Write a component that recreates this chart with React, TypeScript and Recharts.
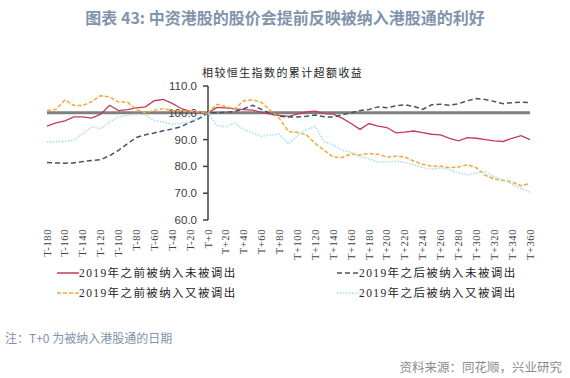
import React from 'react';
import { LineChart, Line, XAxis, YAxis, ReferenceLine } from 'recharts';

const periods = [
  'T-180', 'T-170', 'T-160', 'T-150', 'T-140', 'T-130', 'T-120', 'T-110', 'T-100', 'T-90',
  'T-80', 'T-70', 'T-60', 'T-50', 'T-40', 'T-30', 'T-20', 'T-10', 'T+0', 'T+10',
  'T+20', 'T+30', 'T+40', 'T+50', 'T+60', 'T+70', 'T+80', 'T+90', 'T+100', 'T+110',
  'T+120', 'T+130', 'T+140', 'T+150', 'T+160', 'T+170', 'T+180', 'T+190', 'T+200', 'T+210',
  'T+220', 'T+230', 'T+240', 'T+250', 'T+260', 'T+270', 'T+280', 'T+290', 'T+300', 'T+310',
  'T+320', 'T+330', 'T+340', 'T+350', 'T+360',
];

// 2019年之前被纳入未被调出
const beforeStayed = [
  95, 96.2, 97, 98.5, 98.5, 98, 99.5, 102.8, 100.8, 101.2,
  101.8, 102.2, 104.5, 105, 103.5, 101.6, 100.5, 100.2, 100, 102,
  101.8, 101.5, 101.2, 101, 100.2, 99.5, 99, 98.7, 99.5, 100.3,
  100.6, 99.7, 99.5, 98, 96, 93.8, 96, 95, 94.5, 92.5,
  92.8, 93.2, 92.6, 92, 91.8, 90.5, 89.5, 90.7, 90.5, 90,
  89.5, 89.3, 90.5, 91.5, 90,
];

// 2019年之后被纳入未被调出
const afterStayed = [
  81.5, 81.3, 81.2, 81.3, 81.8, 82.2, 82.5, 84, 86, 88.5,
  90.8, 91.8, 92.5, 93.3, 94, 94.8, 96.5, 97.8, 100, 100,
  100.2, 100.5, 101.5, 102.8, 101.2, 99.7, 98.7, 98.4, 98.4, 98.7,
  99.2, 98.5, 98.4, 99.3, 100, 100.9, 101.2, 102.2, 101.9, 102.6,
  103, 102.4, 101.3, 103, 103.2, 102.8, 103.4, 104.5, 105.3, 105,
  104.2, 103.4, 103.8, 104, 103.8,
];

// 2019年之前被纳入又被调出
const beforeRemoved = [
  100.9, 101.3, 104.8, 102.8, 102.7, 104.2, 106.4, 105.9, 104, 104,
  101.2, 100, 101, 101.5, 100.8, 100.7, 100.6, 100.3, 100, 103.2,
  102.3, 101.5, 104.5, 104.8, 103.8, 100.8, 97.8, 93, 92.7, 91.8,
  88.5, 86, 83.5, 83.3, 84.6, 84.3, 84.8, 84.5, 83.5, 83.8,
  83.5, 82, 80.8, 80.1, 80.1, 79.5, 79.8, 80.6, 79.5, 76.7,
  75.3, 74.8, 74.2, 72.8, 73.6,
];

// 2019年之后被纳入又被调出
const afterRemoved = [
  89.1, 89.2, 89.4, 89.8, 92.2, 94.7, 94.1, 96.6, 98.4, 99,
  99.5, 99.3, 97, 96.6, 95.7, 96, 96.8, 98.4, 100, 95.3,
  94.8, 96.2, 93.8, 92.5, 91.2, 91.8, 92, 88.5, 91.5, 93.8,
  94.8, 89.2, 87.9, 86, 85.3, 83.7, 82.8, 81.6, 81.6, 81.9,
  81.5, 80.6, 79.6, 78.9, 79.5, 78.8, 77.6, 76.8, 77.5, 78,
  76.1, 75, 73.4, 71.8, 70.4,
];

const yTicks = [110, 100, 90, 80, 70, 60];

const rows = periods.map((p, i) => ({
  period: p,
  a: beforeStayed[i],
  b: afterStayed[i],
  c: beforeRemoved[i],
  d: afterRemoved[i],
}));

const series = [
  { key: 'a', name: '2019年之前被纳入未被调出', color: '#c23b5b', dash: undefined, width: 1.3 },
  { key: 'b', name: '2019年之后被纳入未被调出', color: '#44546a', dash: '5 3', width: 1.5 },
  { key: 'c', name: '2019年之前被纳入又被调出', color: '#f2a93b', dash: '4 2', width: 1.5 },
  { key: 'd', name: '2019年之后被纳入又被调出', color: '#a6dcea', dash: '1.5 1.5', width: 1.5 },
];

const serif = "'Liberation Serif', 'Noto Sans CJK SC', serif";
const sans = "'Noto Sans CJK SC', 'Liberation Sans', sans-serif";

const XTick = (props: any) => {
  const { x, y, payload } = props;
  return (
    <text
      transform={`translate(${x},${y + 1}) rotate(-90)`}
      textAnchor="end"
      dominantBaseline="central"
      fontSize={10.5}
      fill="#404040"
      fontFamily={serif}
      letterSpacing={0.6}
    >
      {payload.value}
    </text>
  );
};

// vertical axis drawn through T+0
const ZeroAxis = (props: any) => {
  const vb = props.viewBox || {};
  const top = Math.max(...yTicks);
  const bottom = Math.min(...yTicks);
  return (
    <g>
      {yTicks.map(v => {
        const ty = vb.y + ((top - v) / (top - bottom)) * vb.height;
        return (
          <g key={v}>
            <line x1={vb.x - 5} x2={vb.x} y1={ty} y2={ty} stroke="#404040" strokeWidth={1.5} />
            <text
              x={vb.x - 11}
              y={ty}
              textAnchor="end"
              dominantBaseline="central"
              fontSize={11.5}
              fill="#404040"
              fontFamily="'Liberation Sans', sans-serif"
            >
              {v.toFixed(1)}
            </text>
          </g>
        );
      })}
    </g>
  );
};

const LegendMark = ({ color, dash }: { color: string; dash?: string }) => (
  <svg width={22} height={10} style={{ display: 'block' }}>
    <line x1={0} x2={22} y1={5} y2={5} stroke={color} strokeWidth={1.5} strokeDasharray={dash} />
  </svg>
);

const legendPos = [
  { left: 57, top: 265 },
  { left: 337, top: 265 },
  { left: 57, top: 285 },
  { left: 337, top: 285 },
];

export default function App() {
  return (
    <div style={{ position: 'absolute', left: 0, top: 0, width: 570, height: 378, background: '#fff', overflow: 'hidden' }}>
      <div
        style={{
          position: 'absolute', top: 6, left: 0, width: 570, textAlign: 'center',
          fontFamily: sans, fontWeight: 700, fontSize: 16, color: '#8194ac', lineHeight: '22px',
        }}
      >
        图表 43: 中资港股的股价会提前反映被纳入港股通的利好
      </div>
      <div
        style={{
          position: 'absolute', top: 65, left: 202, fontFamily: serif, fontSize: 11,
          letterSpacing: 1.4, color: '#262626', lineHeight: '16px', whiteSpace: 'nowrap',
        }}
      >
        相较恒生指数的累计超额收益
      </div>

      <div style={{ position: 'absolute', left: 0, top: 0 }}>
        <LineChart width={570} height={262} data={rows} margin={{ top: 86, right: 40, bottom: 12, left: 47 }}>
          <XAxis
            dataKey="period"
            interval={1}
            axisLine={false}
            tickLine={false}
            height={30}
            tick={<XTick />}
          />
          <YAxis hide domain={[60, 110]} ticks={yTicks} />
          <ReferenceLine y={100} stroke="#7f7f7f" strokeWidth={3} />
          <ReferenceLine x="T+0" stroke="#404040" strokeWidth={1.5} label={(p: any) => <ZeroAxis {...p} />} />
          {series.map(s => (
            <Line
              key={s.key}
              dataKey={s.key}
              name={s.name}
              stroke={s.color}
              strokeWidth={s.width}
              strokeDasharray={s.dash}
              dot={false}
              activeDot={false}
              isAnimationActive={false}
            />
          ))}
        </LineChart>
      </div>

      {series.map((s, i) => (
        <div
          key={s.key}
          style={{
            position: 'absolute', left: legendPos[i].left, top: legendPos[i].top,
            display: 'flex', alignItems: 'center', whiteSpace: 'nowrap',
          }}
        >
          <LegendMark color={s.color} dash={s.dash} />
          <span style={{ fontFamily: serif, fontSize: 11.5, letterSpacing: 1.4, color: '#262626', lineHeight: '16px' }}>
            {s.name}
          </span>
        </div>
      ))}

      <div
        style={{
          position: 'absolute', top: 329, left: 5, fontFamily: sans, fontSize: 12,
          color: '#7f93ad', lineHeight: '18px', whiteSpace: 'nowrap',
        }}
      >
        注：T+0 为被纳入港股通的日期
      </div>
      <div
        style={{
          position: 'absolute', top: 358, right: 8, fontFamily: sans, fontSize: 12.5,
          color: '#8c8c8c', lineHeight: '18px', whiteSpace: 'nowrap',
        }}
      >
        资料来源：同花顺，兴业研究
      </div>
    </div>
  );
}
